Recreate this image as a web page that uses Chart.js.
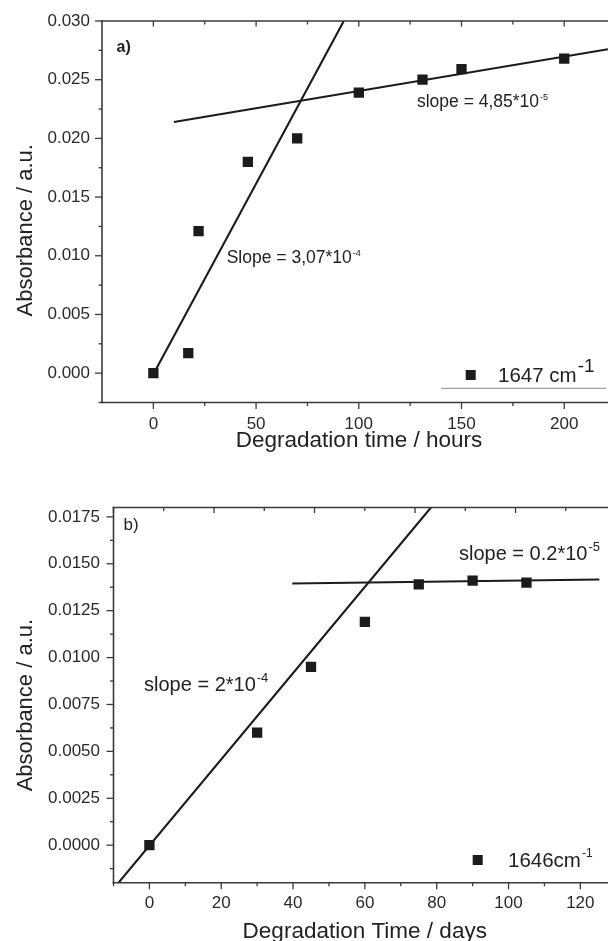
<!DOCTYPE html>
<html><head><meta charset="utf-8">
<script src="https://cdn.jsdelivr.net/npm/chart.js@4.4.1/dist/chart.umd.min.js"></script>
<style>
html,body{margin:0;padding:0;background:#fff;width:608px;height:941px;overflow:hidden}
canvas{position:absolute;left:0;display:block}
#ca{top:0}
#cb{top:470px}
</style></head><body>
<canvas id="ca" width="608" height="470"></canvas>
<canvas id="cb" width="608" height="471"></canvas>
<script>
// ---------- Panel a) data ----------
const hoursA = [0, 17, 22, 46, 70, 100, 131, 150, 200];
const absA   = [0.0000, 0.0017, 0.0121, 0.0180, 0.0200, 0.0239, 0.0250, 0.0259, 0.0268];
const steepAx = [1.5, 92.7];
const steepAy = [0.0004, 0.0300];
const flatAx  = [10, 221.3];
const flatAy  = [0.0214, 0.0276];
const xTicksA = [0, 50, 100, 150, 200];
const xMinorA = [25, 75, 125, 175];
const yTicksA = [0.000, 0.005, 0.010, 0.015, 0.020, 0.025, 0.030];
const yMinorA = [-0.0025, 0.0025, 0.0075, 0.0125, 0.0175, 0.0225, 0.0275];

// ---------- Panel b) data ----------
const daysB = [0, 30, 45, 60, 75, 90, 105];
const absB  = [0.0000, 0.0060, 0.0095, 0.0119, 0.0139, 0.0141, 0.0140];
const steepBx = [-8.6, 78.4];
const steepBy = [-0.0020, 0.0180];
const flatBx  = [39.8, 125.3];
const flatBy  = [0.01395, 0.01416];
const xTicksB = [0, 20, 40, 60, 80, 100, 120];
const xMinorB = [-10, 10, 30, 50, 70, 90, 110];
const yTicksB = [0.0000, 0.0025, 0.0050, 0.0075, 0.0100, 0.0125, 0.0150, 0.0175];
const yMinorB = [-0.00125, 0.00125, 0.00375, 0.00625, 0.00875, 0.01125, 0.01375, 0.01625];
const topMajorB = [0, 1, 2, 3, 4];
const topMinorB = [0.5, 1.5, 2.5, 3.5, 4.5];

const FONT = "'Liberation Sans', Arial, Helvetica, sans-serif";
const MARK = '#1b1b1b', AXIS = '#3a3a3a', TEXT = '#222';

function pts(xs, ys) { return xs.map((v, i) => ({x: v, y: ys[i]})); }

function drawSup(ctx, x, y, main, sup, size, supSize, rise, weight) {
  ctx.font = (weight || '') + ' ' + size + 'px ' + FONT;
  ctx.textAlign = 'left'; ctx.textBaseline = 'alphabetic';
  ctx.fillText(main, x, y);
  if (sup) {
    const w = ctx.measureText(main).width;
    ctx.font = supSize + 'px ' + FONT;
    ctx.fillText(sup, x + w + 1, y - rise);
  }
}

const deco = {
  id: 'deco',
  afterDraw(chart, args, o) {
    const ctx = chart.ctx, a = chart.chartArea, x = chart.scales.x, y = chart.scales.y;
    const t = chart.scales[o.topScale];
    ctx.save();
    const seg = (x1, y1, x2, y2) => { ctx.beginPath(); ctx.moveTo(x1, y1); ctx.lineTo(x2, y2); ctx.stroke(); };
    ctx.strokeStyle = AXIS; ctx.lineWidth = 1.6;
    seg(a.left, a.top - 0.8, a.left, a.bottom + 0.8);
    seg(a.left - 0.8, a.bottom, a.right, a.bottom);
    seg(a.left - 0.8, a.top, a.right, a.top);
    ctx.lineWidth = 1.3;
    const inX = p => p >= a.left - 0.5 && p <= a.right + 0.5;
    o.xMajor.forEach(v => { const p = x.getPixelForValue(v); if (inX(p)) seg(p, a.bottom, p, a.bottom + 6.5); });
    o.xMinor.forEach(v => { const p = x.getPixelForValue(v); if (inX(p)) seg(p, a.bottom, p, a.bottom + 3.5); });
    o.yMajor.forEach(v => { const p = y.getPixelForValue(v); seg(a.left - 7, p, a.left, p); });
    o.yMinor.forEach(v => { const p = y.getPixelForValue(v); seg(a.left - 3.5, p, a.left, p); });
    o.topMajor.forEach(v => { const p = t.getPixelForValue(v); if (inX(p)) seg(p, a.top, p, a.top + 5.5); });
    o.topMinor.forEach(v => { const p = t.getPixelForValue(v); if (inX(p)) seg(p, a.top, p, a.top + 3.5); });

    ctx.fillStyle = TEXT;
    drawSup(ctx, a.left + o.tag.dx, a.top + o.tag.dy, o.tag.text, '', o.tag.size, 0, 0, o.tag.weight);
    o.notes.forEach(n => {
      drawSup(ctx, x.getPixelForValue(n.x), y.getPixelForValue(n.y), n.text, n.sup, n.size, n.supSize, n.rise);
    });
    const L = o.legend;
    ctx.fillStyle = MARK;
    ctx.fillRect(a.right + L.mx - 5, a.bottom + L.my - 5, 10, 10);
    ctx.fillStyle = TEXT;
    drawSup(ctx, a.right + L.tx, a.bottom + L.ty, L.text, L.sup, L.size, L.supSize, L.rise);
    if (L.line) {
      ctx.strokeStyle = '#8a8a8a'; ctx.lineWidth = 1;
      seg(a.right + L.line[0], a.bottom + L.line[2], a.right + L.line[1], a.bottom + L.line[2]);
    }
    ctx.fillStyle = TEXT;
    ctx.font = o.xTitle.size + 'px ' + FONT;
    ctx.textAlign = 'center'; ctx.textBaseline = 'alphabetic';
    ctx.fillText(o.xTitle.text, (a.left + a.right) / 2 + o.xTitle.dx, a.bottom + o.xTitle.dy);
    ctx.save();
    ctx.translate(o.yTitle.x, (a.top + a.bottom) / 2 + o.yTitle.dy);
    ctx.rotate(-Math.PI / 2);
    ctx.font = o.yTitle.size + 'px ' + FONT;
    ctx.textAlign = 'center'; ctx.textBaseline = 'alphabetic';
    ctx.fillText(o.yTitle.text, 0, 0);
    ctx.restore();
    ctx.restore();
  }
};

function noPad(s) { s.paddingLeft = 0; s.paddingRight = 0; s.paddingTop = 0; s.paddingBottom = 0; }

function makeChart(id, p) {
  return new Chart(document.getElementById(id), {
    type: 'scatter',
    data: {
      datasets: [
        { label: p.label, data: pts(p.xs, p.ys), showLine: false, pointStyle: 'rect', pointRadius: 7.3,
          pointBorderWidth: 0, backgroundColor: MARK, borderColor: MARK, xAxisID: 'x', yAxisID: 'y' },
        { data: pts(p.l1x, p.l1y), showLine: true, pointRadius: 0, borderColor: MARK, borderWidth: 2.1, xAxisID: 'x', yAxisID: 'y' },
        { data: pts(p.l2x, p.l2y), showLine: true, pointRadius: 0, borderColor: MARK, borderWidth: 2.1, xAxisID: 'x', yAxisID: 'y' }
      ]
    },
    options: {
      responsive: false, devicePixelRatio: 1, animation: false, events: [],
      layout: { autoPadding: false, padding: { top: p.padTop, left: 0, right: 0, bottom: 0 } },
      plugins: { legend: { display: false }, tooltip: { enabled: false }, deco: p.deco },
      scales: {
        x: { type: 'linear', position: 'bottom', min: p.xmin, max: p.xmax,
          afterBuildTicks: s => { s.ticks = p.xTicks.map(v => ({value: v})); },
          afterFit: s => { s.height = p.xH; noPad(s); },
          grid: { display: false, drawTicks: false }, border: { display: false },
          ticks: { autoSkip: false, maxRotation: 0, padding: p.xPad, color: '#2a2a2a',
            font: { family: FONT, size: 17 }, callback: v => String(v) } },
        y: { type: 'linear', position: 'left', min: p.ymin, max: p.ymax,
          afterBuildTicks: s => { s.ticks = p.yTicks.map(v => ({value: v})); },
          afterFit: s => { s.width = p.yW; noPad(s); },
          grid: { display: false, drawTicks: false }, border: { display: false },
          ticks: { autoSkip: false, padding: p.yPad, color: '#2a2a2a',
            font: { family: FONT, size: 17 }, callback: v => Number(v).toFixed(p.dec) } },
        xt: { type: 'linear', axis: 'x', position: 'top', min: p.tmin, max: p.tmax,
          afterFit: s => { s.height = 0; noPad(s); },
          grid: { display: false, drawTicks: false }, border: { display: false }, ticks: { display: false } }
      }
    },
    plugins: [deco]
  });
}

makeChart('ca', {
  label: '1647 cm-1', xs: hoursA, ys: absA, l1x: steepAx, l1y: steepAy, l2x: flatAx, l2y: flatAy,
  xmin: -25, xmax: 221.3, ymin: -0.0025, ymax: 0.030, tmin: -25, tmax: 221.3,
  xTicks: xTicksA, yTicks: yTicksA, dec: 3, padTop: 21, xH: 67.5, yW: 102, xPad: 11.5, yPad: 12,
  deco: {
    topScale: 'x', xMajor: xTicksA, xMinor: xMinorA, yMajor: yTicksA, yMinor: yMinorA,
    topMajor: xTicksA, topMinor: xMinorA,
    tag: { text: 'a)', dx: 14.5, dy: 31, size: 16, weight: 'bold' },
    notes: [
      { text: 'Slope = 3,07*10', sup: '-4', x: 35.7, y: 0.00935, size: 17.5, supSize: 9, rise: 7 },
      { text: 'slope = 4,85*10', sup: '-5', x: 128.3, y: 0.02268, size: 17.5, supSize: 9, rise: 7 }
    ],
    legend: { mx: -137.3, my: -27.5, tx: -110, ty: -21, text: '1647 cm', sup: '-1', size: 20.5, supSize: 19, rise: 9.5,
      line: [-167, -2, -14.2] },
    xTitle: { text: 'Degradation time / hours', size: 22.5, dx: 4, dy: 44.5 },
    yTitle: { text: 'Absorbance / a.u.', size: 22, x: 31.5, dy: 18.5 }
  }
});

makeChart('cb', {
  label: '1646cm-1', xs: daysB, ys: absB, l1x: steepBx, l1y: steepBy, l2x: flatBx, l2y: flatBy,
  xmin: -10, xmax: 127.7, ymin: -0.002, ymax: 0.018, tmin: 0, tmax: 4.92,
  xTicks: xTicksB, yTicks: yTicksB, dec: 4, padTop: 37.5, xH: 58.3, yW: 113.5, xPad: 10, yPad: 13.5,
  deco: {
    topScale: 'xt', xMajor: xTicksB, xMinor: xMinorB, yMajor: yTicksB, yMinor: yMinorB,
    topMajor: topMajorB, topMinor: topMinorB,
    tag: { text: 'b)', dx: 10, dy: 22.5, size: 17, weight: '' },
    notes: [
      { text: 'slope = 2*10', sup: '-4', x: -1.5, y: 0.00821, size: 20, supSize: 13, rise: 9 },
      { text: 'slope = 0.2*10', sup: '-5', x: 86.2, y: 0.01519, size: 20, supSize: 13, rise: 9 }
    ],
    legend: { mx: -130.3, my: -22.7, tx: -100, ty: -16, text: '1646cm', sup: '-1', size: 20.5, supSize: 12, rise: 10,
      line: null },
    xTitle: { text: 'Degradation Time / days', size: 22.5, dx: 4, dy: 55 },
    yTitle: { text: 'Absorbance / a.u.', size: 22, x: 31.5, dy: 10 }
  }
});
</script>
</body></html>
